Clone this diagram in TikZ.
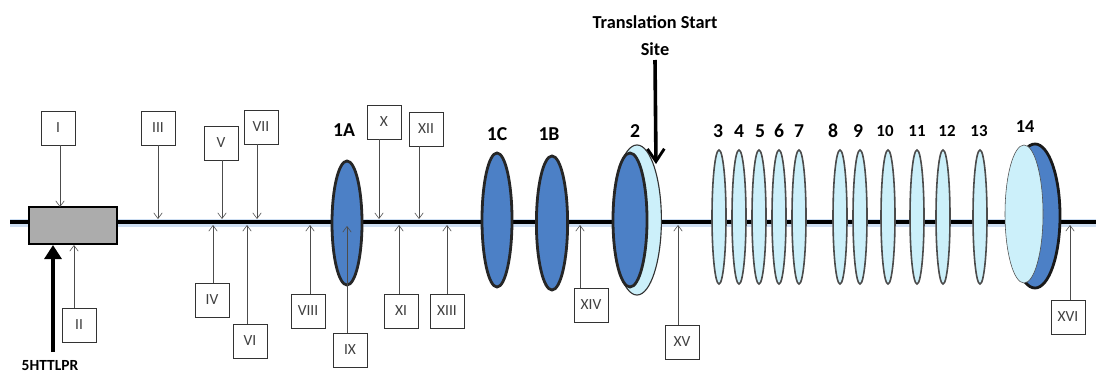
\documentclass[tikz,border=0pt]{standalone}
\usepackage{fontspec}
\setmainfont{Carlito}
\usetikzlibrary{arrows.meta,shapes.geometric}
\definecolor{exondark}{RGB}{76,128,198}
\definecolor{exonlight}{RGB}{204,240,250}
\definecolor{glow}{RGB}{205,222,242}

\begin{document}
\begin{tikzpicture}[x=0.025cm,y=-0.025cm,every node/.style={font=\fontsize{11}{13}\selectfont},
  sitebox/.style={draw=black!80,fill=white,thin,minimum width=0.85cm,minimum height=0.85cm,inner sep=1pt,text=black!75},
  pin/.style={draw=black!70,thin,-{Straight Barb[length=4pt,width=6pt]}},
  bigexon/.style={ellipse,draw=black!85,line width=0.07cm,fill=exondark,inner sep=0},
  smallexon/.style={ellipse,draw=black!70,line width=0.04cm,fill=exonlight,inner sep=0,minimum width=0.35cm,minimum height=3.35cm},
  exlabel/.style={font=\bfseries\fontsize{14}{16}\selectfont}]
\useasboundingbox (0,0) rectangle (1096,375);
% backbone
\coordinate (L) at (10,222); \coordinate (R) at (1096,222);
\draw[glow,line width=0.2cm] ([yshift=-1pt]L) -- ([yshift=-1pt]R);
\draw[line width=0.1cm] (L) -- (R);
% promoter
\node[draw,fill=gray!65,line width=0.07cm,minimum width=2.2cm,minimum height=0.92cm,inner sep=0] (prom) at (73,225.5) {};
% exons 1A 1C 1B
\node[bigexon,minimum width=0.75cm,minimum height=3.1cm] (e1A) at (347,223) {};
\node[bigexon,minimum width=0.75cm,minimum height=3.35cm] (e1C) at (497,220) {};
\node[bigexon,minimum width=0.78cm,minimum height=3.35cm] (e1B) at (552,223) {};
\node[exlabel] (l1A) at (344,130) {1A};
\node[exlabel] (l1C) at (497,134) {1C};
\node[exlabel] (l1B) at (549,134) {1B};
% exon 2
\node[ellipse,draw=black!80,thick,fill=exonlight,inner sep=0,minimum width=1.22cm,minimum height=3.75cm] (e2b) at (637,220) {};
\node[bigexon,minimum width=0.85cm,minimum height=3.35cm] (e2) at (630,220) {};
\node[exlabel] (l2) at (635,131) {2};
% exons 3-13
\foreach \n/\x/\lx/\fs in {3/719/718/14,4/739/739/14,5/759/760/14,6/779/779/14,7/799/799/14,
  8/840/833/14,9/860/858/14,10/888/885/12,11/917/917/12,12/943/947/12,13/980/979/12}{
  \node[smallexon] (e\n) at (\x,217) {};
  \node[font=\bfseries\fontsize{\fs}{16}\selectfont] (l\n) at (\lx,131) {\n};
}
% exon 14
\node[ellipse,draw=black!90,line width=0.07cm,fill=exondark,inner sep=0,minimum width=1.25cm,minimum height=3.6cm] (e14b) at (1035,216) {};
\node[ellipse,draw=black!70,thin,fill=exonlight,inner sep=0,minimum width=0.95cm,minimum height=3.45cm] (e14) at (1024,214) {};
\node[exlabel,font=\bfseries\fontsize{13}{16}\selectfont] (l14) at (1025,127) {14};
% translation start
\node[font=\bfseries\fontsize{13}{15}\selectfont] (tss) at (655,22) {Translation Start};
\node[font=\bfseries\fontsize{13}{15}\selectfont] (tsite) at (655,49) {Site};
\coordinate (ptss) at (656,164);
\draw[line width=0.09cm,-{Straight Barb[length=9pt,width=12pt,line width=2pt]}] (655,60) -- (ptss);
% 5HTTLPR
\node[font=\bfseries\fontsize{11}{13}\selectfont] (lpr) at (50,366) {5HTTLPR};
\coordinate (plpr) at (53,245);
\draw[line width=0.12cm,-{Triangle[length=10pt,width=12pt]}] (53,352) -- (plpr);
% sites above the line
\foreach \r/\bx/\by/\px/\py in {I/58/128/60/207,III/158/128/158/219,V/221/143/222/219,VII/261/127/257/219,
  X/384/122/379/219,XII/426/129/419/219}{
  \node[sitebox] (b\r) at (\bx,\by) {\r};
  \coordinate (p\r) at (\px,\py);
  \draw[pin] (b\r.south -| p\r) -- (p\r);
}
% sites below the line
\foreach \r/\bx/\by/\px/\py in {II/79/325/74/245,IV/212/300/213/225,VI/250/341/247/225,VIII/308/311/310/225,
  IX/350/350/347/226,XI/401/311/399/225,XIII/447/311/447/225,XIV/591/305/580/225,XV/682/342/678/225,XVI/1068/317/1070/225}{
  \node[sitebox] (b\r) at (\bx,\by) {\r};
  \coordinate (p\r) at (\px,\py);
  \draw[pin] (b\r.north -| p\r) -- (p\r);
}
\end{tikzpicture}
\end{document}
